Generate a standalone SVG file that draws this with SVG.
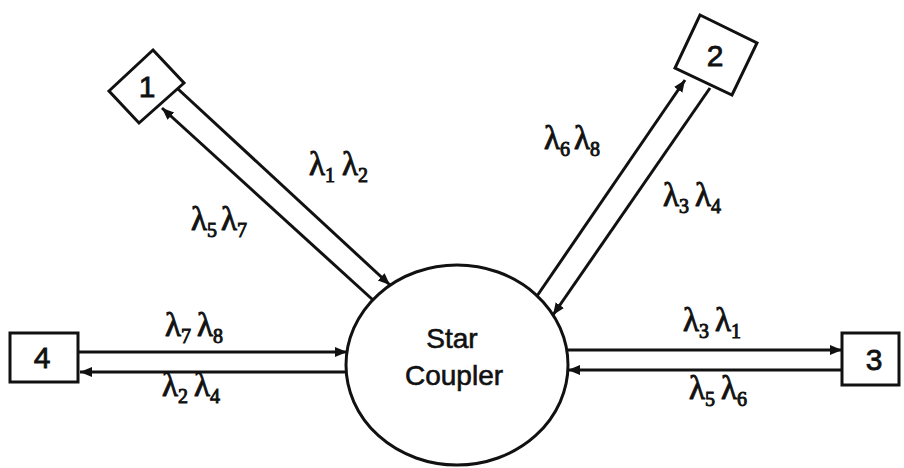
<svg xmlns="http://www.w3.org/2000/svg" width="904" height="468" viewBox="0 0 904 468">
<style>
.box{fill:#fff;stroke:#111;stroke-width:3}
.ln{stroke:#111;stroke-width:3;fill:none}
.num{font-family:"Liberation Sans",Arial,sans-serif;font-size:30px;fill:#111;stroke:#111;stroke-width:0.8;text-anchor:middle}
.core{font-family:"Liberation Sans",Arial,sans-serif;font-size:28px;fill:#111;stroke:#111;stroke-width:0.6;text-anchor:middle}
.lam{font-family:"Liberation Serif","Times New Roman",serif;font-size:33px;fill:#111;stroke:#111;stroke-width:0.9}
.s{font-size:20px}
</style>
<defs>
<marker id="ah" markerUnits="userSpaceOnUse" markerWidth="13" markerHeight="11" refX="12" refY="5" orient="auto">
<path d="M0,0 L12,5 L0,10 z" fill="#111"/>
</marker>
</defs>
<rect width="904" height="468" fill="#fff"/>
<g id="connectors">
<line class="ln" x1="178" y1="89" x2="390" y2="285" marker-end="url(#ah)"/>
<line class="ln" x1="373" y1="300" x2="162" y2="108" marker-end="url(#ah)"/>
<line class="ln" x1="537" y1="296" x2="685" y2="80" marker-end="url(#ah)"/>
<line class="ln" x1="710" y1="88" x2="553" y2="315" marker-end="url(#ah)"/>
<line class="ln" x1="78" y1="352" x2="347" y2="352" marker-end="url(#ah)"/>
<line class="ln" x1="347" y1="372" x2="80" y2="372" marker-end="url(#ah)"/>
<line class="ln" x1="567" y1="350" x2="842" y2="350" marker-end="url(#ah)"/>
<line class="ln" x1="842" y1="370" x2="568" y2="370" marker-end="url(#ah)"/>
<text class="lam" x="309" y="175">λ<tspan class="s" dy="7">1</tspan><tspan dy="-7" dx="7">λ</tspan><tspan class="s" dy="7">2</tspan></text>
<text class="lam" x="191" y="230">λ<tspan class="s" dy="7">5</tspan><tspan dy="-7" dx="4">λ</tspan><tspan class="s" dy="7">7</tspan></text>
<text class="lam" x="544" y="149">λ<tspan class="s" dy="7">6</tspan><tspan dy="-7" dx="4">λ</tspan><tspan class="s" dy="7">8</tspan></text>
<text class="lam" x="663" y="206">λ<tspan class="s" dy="7">3</tspan><tspan dy="-7" dx="6">λ</tspan><tspan class="s" dy="7">4</tspan></text>
<text class="lam" x="165" y="336">λ<tspan class="s" dy="7">7</tspan><tspan dy="-7" dx="6">λ</tspan><tspan class="s" dy="7">8</tspan></text>
<text class="lam" x="162" y="396">λ<tspan class="s" dy="7">2</tspan><tspan dy="-7" dx="6">λ</tspan><tspan class="s" dy="7">4</tspan></text>
<text class="lam" x="683" y="331">λ<tspan class="s" dy="7">3</tspan><tspan dy="-7" dx="6">λ</tspan><tspan class="s" dy="7">1</tspan></text>
<text class="lam" x="689" y="399">λ<tspan class="s" dy="7">5</tspan><tspan dy="-7" dx="6">λ</tspan><tspan class="s" dy="7">6</tspan></text>
</g>
<g id="star-coupler">
<ellipse class="box" cx="457" cy="365" rx="111" ry="100"/>
<text class="core" x="452" y="348">Star</text>
<text class="core" x="454" y="385">Coupler</text>
</g>
<g id="node-1">
<polygon class="box" points="153,50 184,83 139,123 109,91"/>
<text class="num" x="147" y="97">1</text>
</g>
<g id="node-2">
<polygon class="box" points="700,15 757,43 732,95 675,68"/>
<text class="num" x="715" y="66">2</text>
</g>
<g id="node-3">
<rect class="box" x="842" y="333" width="57" height="52"/>
<text class="num" x="874" y="370">3</text>
</g>
<g id="node-4">
<rect class="box" x="10" y="333" width="68" height="49"/>
<text class="num" x="42" y="368">4</text>
</g>
</svg>
